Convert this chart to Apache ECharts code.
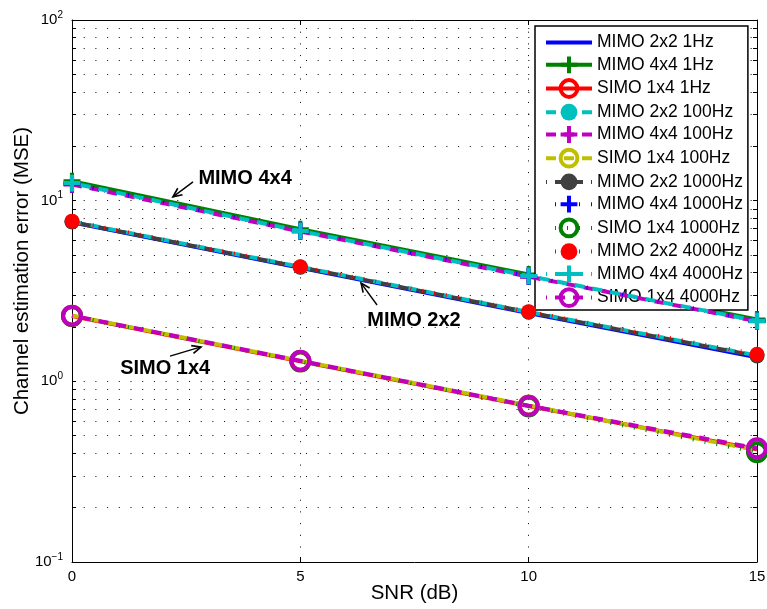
<!DOCTYPE html>
<html>
<head>
<meta charset="utf-8">
<script src="https://cdn.jsdelivr.net/npm/echarts@6/dist/echarts.min.js"></script>
<style>
html,body{margin:0;padding:0;background:#fff;}
#chart{width:767px;height:609px;}
</style>
</head>
<body>
<div id="chart"></div>
<script>
// ---- data ----
const snr = [0, 5, 10, 15];
const xTicks = [0, 5, 10, 15];
const yMajorTicks = [0.1, 1, 10, 100];
const yMinorMultipliers = [2, 3, 4, 5, 6, 7, 8, 9];

const mimo2x2_1Hz    = [7.60, 4.25, 2.39, 1.36];
const mimo4x4_1Hz    = [12.8, 6.95, 3.90, 2.20];
const simo1x4_1Hz    = [2.30, 1.29, 0.730, 0.420];
const mimo2x2_100Hz  = [7.66, 4.30, 2.42, 1.39];
const mimo4x4_100Hz  = [12.3, 6.75, 3.80, 2.15];
const simo1x4_100Hz  = [2.31, 1.30, 0.735, 0.415];
const mimo2x2_1000Hz = [7.62, 4.28, 2.41, 1.38];
const mimo4x4_1000Hz = [12.4, 6.80, 3.82, 2.16];
const simo1x4_1000Hz = [2.30, 1.29, 0.725, 0.405];
const mimo2x2_4000Hz = [7.70, 4.31, 2.43, 1.41];
const mimo4x4_4000Hz = [12.5, 6.79, 3.83, 2.16];
const simo1x4_4000Hz = [2.31, 1.30, 0.733, 0.426];

const seriesNames = [
  'MIMO 2x2 1Hz','MIMO 4x4 1Hz','SIMO 1x4 1Hz',
  'MIMO 2x2 100Hz','MIMO 4x4 100Hz','SIMO 1x4 100Hz',
  'MIMO 2x2 1000Hz','MIMO 4x4 1000Hz','SIMO 1x4 1000Hz',
  'MIMO 2x2 4000Hz','MIMO 4x4 4000Hz','SIMO 1x4 4000Hz'
];
const seriesValues = [
  mimo2x2_1Hz, mimo4x4_1Hz, simo1x4_1Hz,
  mimo2x2_100Hz, mimo4x4_100Hz, simo1x4_100Hz,
  mimo2x2_1000Hz, mimo4x4_1000Hz, simo1x4_1000Hz,
  mimo2x2_4000Hz, mimo4x4_4000Hz, simo1x4_4000Hz
];

// annotations: text labels and arrows (data coordinates)
const annotationTexts = ['MIMO 4x4', 'MIMO 2x2', 'SIMO 1x4'];
const annotationTextPos = [[3.79, 13.2], [7.49, 2.16], [2.04, 1.185]];
const annotationArrows = [
  [2.65, 12.7, 2.21, 10.5],
  [6.68, 2.646, 6.33, 3.50],
  [2.146, 1.38, 2.825, 1.55]
];

// ---- styles ----
const FONT = 'Liberation Sans, Arial, Helvetica, sans-serif';
const colors = ['#0000ff','#008000','#ff0000','#00bfbf','#bf00bf','#bfbf00',
                '#404040','#0000ff','#008000','#ff0000','#00bfbf','#bf00bf'];
const PLUS = 'path://M3.8,0H6.2V3.8H10V6.2H6.2V10H3.8V6.2H0V3.8H3.8Z';
const DASH = [10, 8];
const DOT = [1, 11];
const styleDefs = [
  {sym:'none', type:'solid'},
  {sym:'plus', type:'solid'},
  {sym:'ring', type:'solid'},
  {sym:'star', type:DASH, off:0},
  {sym:'plus', type:DASH, off:0},
  {sym:'ring', type:DASH, off:0},
  {sym:'star', type:DASH, off:9},
  {sym:'plus', type:DOT, off:3},
  {sym:'ring', type:DOT, off:3},
  {sym:'star', type:DOT, off:3},
  {sym:'plus', type:DASH, off:9},
  {sym:'ring', type:DASH, off:9}
];

const series = seriesNames.map((name, i) => {
  const d = styleDefs[i];
  const c = colors[i];
  const s = {
    name: name,
    type: 'line',
    data: snr.map((x, k) => [x, seriesValues[i][k]]),
    lineStyle: {color: c, width: 4, type: d.type, dashOffset: d.off || 0, cap: 'butt'},
    showSymbol: d.sym !== 'none',
    symbol: 'none',
    z: 2 + i,
    emphasis: {disabled: true}
  };
  if (d.sym === 'plus') {
    s.symbol = PLUS; s.symbolSize = 17;
    s.itemStyle = {color: c};
  } else if (d.sym === 'star') {
    s.symbol = 'circle'; s.symbolSize = 15;
    s.itemStyle = {color: c};
  } else if (d.sym === 'ring') {
    s.symbol = 'circle'; s.symbolSize = 18;
    s.itemStyle = {color: 'rgba(255,255,255,0)', borderColor: c, borderWidth: 4};
  } else {
    s.itemStyle = {color: c};
  }
  return s;
});

// annotation text
series.push({
  name: 'annotText',
  type: 'line',
  data: [],
  z: 20,
  markPoint: {
    silent: true,
    symbol: 'rect',
    symbolSize: 1,
    itemStyle: {color: 'rgba(0,0,0,0)'},
    label: {show: true, position: 'inside', color: '#000', fontWeight: 'bold',
            fontSize: 20, fontFamily: FONT, formatter: p => p.name},
    data: annotationTexts.map((t, i) => ({name: t, coord: annotationTextPos[i]}))
  }
});

// annotation arrows
series.push({
  name: 'annotArrows',
  type: 'custom',
  z: 21,
  silent: true,
  data: annotationArrows,
  renderItem: function (params, api) {
    const p1 = api.coord([api.value(0), api.value(1)]);
    const p2 = api.coord([api.value(2), api.value(3)]);
    const dx = p2[0] - p1[0], dy = p2[1] - p1[1];
    const len = Math.sqrt(dx * dx + dy * dy);
    const ux = dx / len, uy = dy / len;
    const hl = 9, hw = 4;
    const bx = p2[0] - ux * hl, by = p2[1] - uy * hl;
    const a = [bx - uy * hw, by + ux * hw];
    const b = [bx + uy * hw, by - ux * hw];
    return {
      type: 'group',
      children: [
        {type: 'line', shape: {x1: p1[0], y1: p1[1], x2: p2[0], y2: p2[1]},
         style: {stroke: '#000', lineWidth: 1.4}},
        {type: 'polyline', shape: {points: [a, p2, b]},
         style: {stroke: '#000', lineWidth: 1.6, fill: null}}
      ]
    };
  }
});

// tick positions on the log axis (majors + minors)
const yAllTicks = [];
yMajorTicks.forEach((m, i) => {
  yAllTicks.push(m);
  if (i < yMajorTicks.length - 1) yMinorMultipliers.forEach(k => yAllTicks.push(+(k * m).toPrecision(3)));
});

const supMap = {'-1':'−1','0':'0','1':'1','2':'2'};
const axisLineStyle = {show: true, onZero: false, lineStyle: {color: '#000', width: 1}};
const dotted = {color: '#000', width: 1, type: [1, 10.7]};
const yMin = yMajorTicks[0], yMax = yMajorTicks[yMajorTicks.length - 1];

const option = {
  animation: false,
  backgroundColor: '#fff',
  grid: {left: 72, right: 10, top: 20, bottom: 47, containLabel: false, outerBoundsMode: 'none'},
  xAxis: [
    {
      type: 'value', min: xTicks[0], max: xTicks[xTicks.length - 1], interval: 5,
      name: 'SNR (dB)', nameLocation: 'middle', nameGap: 21, nameMoveOverlap: false,
      nameTextStyle: {fontSize: 20.5, fontFamily: FONT, color: '#000'},
      axisLine: axisLineStyle,
      axisTick: {show: true, inside: true, length: 5, lineStyle: {color: '#000'}},
      axisLabel: {fontSize: 15, fontFamily: FONT, color: '#000', margin: 7},
      splitLine: {show: true, lineStyle: dotted}
    },
    {
      type: 'value', position: 'top', min: xTicks[0], max: xTicks[xTicks.length - 1], interval: 5,
      axisLine: axisLineStyle,
      axisTick: {show: true, inside: true, length: 5, lineStyle: {color: '#000'}},
      axisLabel: {show: false}, splitLine: {show: false}
    }
  ],
  yAxis: [
    {
      type: 'log', logBase: 10, min: yMin, max: yMax,
      name: 'Channel estimation error (MSE)', nameLocation: 'middle', nameGap: 39, nameMoveOverlap: false,
      nameTextStyle: {fontSize: 20.5, fontFamily: FONT, color: '#000', padding: [0, 0, 0, 40]},
      axisLine: axisLineStyle,
      axisTick: {show: true, inside: true, length: 4, customValues: yAllTicks, lineStyle: {color: '#000'}},
      axisLabel: {
        customValues: yMajorTicks,
        fontFamily: FONT, color: '#000', margin: 9,
        formatter: v => '{b|10}{e|' + supMap[String(Math.round(Math.log10(v)))] + '}',
        rich: {
          b: {fontSize: 15, fontFamily: FONT, color: '#000', lineHeight: 20},
          e: {fontSize: 10, fontFamily: FONT, color: '#000', verticalAlign: 'top', lineHeight: 10}
        }
      },
      splitLine: {show: true, lineStyle: dotted},
      minorTick: {show: false},
      minorSplitLine: {show: false}
    },
    {
      type: 'log', logBase: 10, position: 'right', min: yMin, max: yMax,
      axisLine: axisLineStyle,
      axisTick: {show: true, inside: true, length: 4, customValues: yAllTicks, lineStyle: {color: '#000'}},
      axisLabel: {show: false}, splitLine: {show: false}
    }
  ],
  legend: {
    data: seriesNames.map((n, i) => styleDefs[i].sym === 'none'
      ? {name: n, icon: 'path://M0,0H46V4H0Z'} : {name: n}),
    orient: 'vertical',
    left: 535, top: 26,
    itemWidth: 46, itemHeight: 21, itemGap: 4.3,
    padding: [7.5, 5, 2, 9],
    backgroundColor: '#fff',
    borderColor: '#000', borderWidth: 1.5, borderRadius: 0,
    lineStyle: {width: 4},
    itemStyle: {borderWidth: 'inherit'},
    textStyle: {fontSize: 17.5, fontFamily: FONT, color: '#000'},
    selectedMode: false
  },
  series: series
};

const chart = echarts.init(document.getElementById('chart'), null, {renderer: 'canvas'});
chart.setOption(option);
</script>
</body>
</html>
